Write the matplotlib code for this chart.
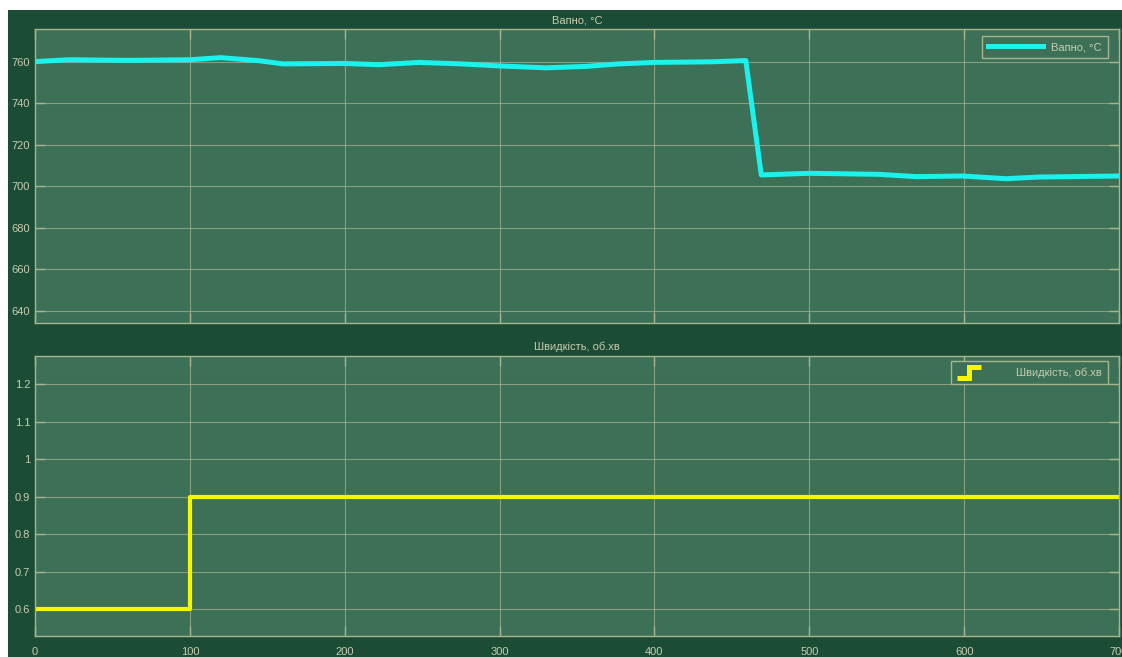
import matplotlib
matplotlib.use("Agg")
import matplotlib.pyplot as plt
from matplotlib.lines import Line2D
from matplotlib.legend_handler import HandlerBase
from matplotlib.patches import Rectangle

# --- data ---------------------------------------------------------------
temp_t = [0, 22, 60, 100, 120, 145, 160, 200, 222, 248, 275, 300, 330, 356,
          377, 400, 437, 459, 469, 500, 545, 569, 599, 627, 648, 700]
temp_v = [760.1, 761.0, 760.7, 761.0, 762.0, 760.5, 759.0, 759.2, 758.6, 759.7,
          759.0, 758.0, 757.1, 757.8, 759.0, 759.7, 760.0, 760.6, 705.5, 706.3,
          705.8, 704.7, 705.0, 703.7, 704.5, 705.0]

speed_t = [0, 100, 700]
speed_v = [0.6, 0.9, 0.9]

temp_label = "Вапно, °C"
speed_label = "Швидкість, об.хв"

x_ticks = [0, 100, 200, 300, 400, 500, 600, 700]
temp_ticks = [640, 660, 680, 700, 720, 740, 760]
speed_ticks = [0.6, 0.7, 0.8, 0.9, 1.0, 1.1, 1.2]
speed_ticklabels = ["0.6", "0.7", "0.8", "0.9", "1", "1.1", "1.2"]

# --- style --------------------------------------------------------------
BG = "#1b4d36"
FACE = "#3c7157"
GRID = "#a9b48f"
TXT = "#c9ccb0"
CYAN = "#1af2ee"
YELLOW = "#f7f500"
FS = 8

plt.rcParams["font.family"] = ["Liberation Sans", "DejaVu Sans"]
plt.rcParams["font.size"] = FS

W, H = 1122, 657
fig = plt.figure(figsize=(W / 100, H / 100), dpi=100, facecolor="white")
fig.patches.append(Rectangle((8 / W, 0), 1 - 8 / W, 1 - 10 / H,
                             transform=fig.transFigure, facecolor=BG,
                             edgecolor="none", zorder=-10))


class StepHandler(HandlerBase):
    """Legend key drawn as a small rising step."""

    def create_artists(self, legend, orig_handle, xdescent, ydescent,
                       width, height, fontsize, trans):
        w = height * 3.0
        x0 = -xdescent
        lo, hi = -0.25 * height, 1.15 * height
        xs = [x0, x0 + w * 0.5, x0 + w * 0.5, x0 + w]
        ys = [lo, lo, hi, hi]
        ln = Line2D(xs, ys, color=orig_handle.get_color(),
                    linewidth=orig_handle.get_linewidth() + 0.6,
                    solid_joinstyle="miter", solid_capstyle="butt",
                    transform=trans)
        return [ln]


def style_axes(ax, title):
    ax.set_facecolor(FACE)
    for s in ax.spines.values():
        s.set_color(GRID)
        s.set_linewidth(1.0)
    ax.grid(True, color=GRID, linewidth=0.8, alpha=0.7)
    ax.tick_params(direction="in", length=7, width=1, color=GRID,
                   labelcolor=TXT, labelsize=FS, left=True, right=True,
                   top=True, bottom=True)
    ax.set_title(title, color=TXT, fontsize=FS, pad=4)
    ax.set_axisbelow(True)


def style_legend(leg):
    fr = leg.get_frame()
    fr.set_facecolor(FACE)
    fr.set_edgecolor(GRID)
    fr.set_boxstyle("square", pad=0)
    fr.set_linewidth(1.0)
    fr.set_alpha(1.0)


# --- upper panel: temperature -------------------------------------------
ax1 = fig.add_axes([35 / W, 1 - 323 / H, 1084 / W, 294 / H])
style_axes(ax1, temp_label)
ax1.plot(temp_t, temp_v, color=CYAN, linewidth=3.6, label=temp_label,
         solid_joinstyle="round")
ax1.set_xlim(0, 700)
ax1.set_ylim(634.2, 775.8)
ax1.set_xticks(x_ticks)
ax1.set_xticklabels([])
ax1.set_yticks(temp_ticks)
leg1 = ax1.legend(loc="upper right", frameon=True, fontsize=FS,
                  labelcolor=TXT, handlelength=5.0, handletextpad=0.7,
                  borderpad=0.55, borderaxespad=0,
                  bbox_to_anchor=(1 - 11 / 1084, 1 - 7 / 294))
style_legend(leg1)

# --- lower panel: rotation speed ----------------------------------------
ax2 = fig.add_axes([35 / W, 1 - 636 / H, 1084 / W, 280 / H])
style_axes(ax2, speed_label)
sp_line, = ax2.step(speed_t, speed_v, where="post", color=YELLOW,
                    linewidth=3.0, label=speed_label)
ax2.set_xlim(0, 700)
ax2.set_ylim(0.528, 1.275)
ax2.set_xticks(x_ticks)
ax2.set_yticks(speed_ticks)
ax2.set_yticklabels(speed_ticklabels)
ax2.tick_params(axis="x", pad=8)
leg2 = ax2.legend(handles=[sp_line], labels=[speed_label],
                  handler_map={sp_line: StepHandler()},
                  loc="upper right", frameon=True, fontsize=FS,
                  labelcolor=TXT, handlelength=4.3, handletextpad=1.0,
                  borderpad=0.55, borderaxespad=0,
                  bbox_to_anchor=(1 - 11 / 1084, 1 - 5 / 280))
style_legend(leg2)

fig.savefig("out.png", dpi=100, facecolor=fig.get_facecolor())
